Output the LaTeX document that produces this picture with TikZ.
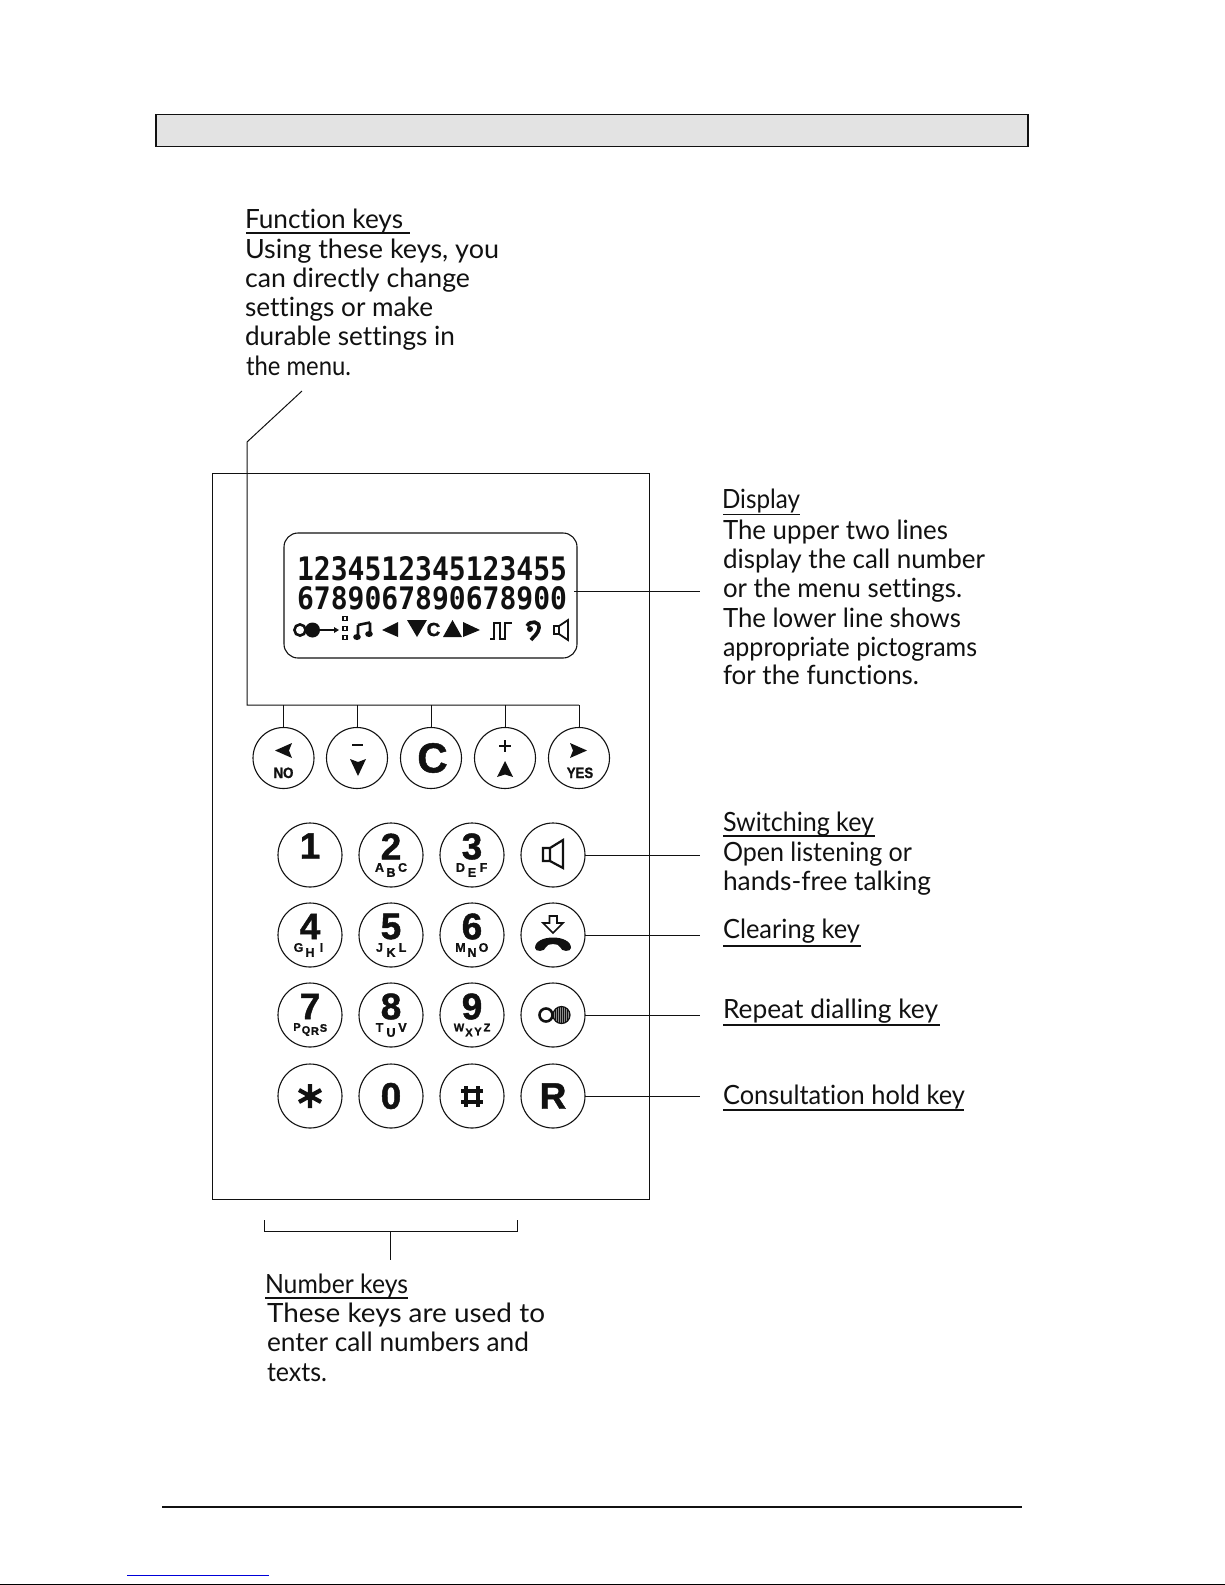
\documentclass[tikz,border=0pt]{standalone}
\usepackage{graphicx}
\usepackage{fontspec}
\setmainfont{Lato}[Ligatures=NoCommon]
\newfontfamily\keyf{Liberation Sans}[BoldFeatures={FakeBold=1.2}]
\newfontfamily\lcdf{DejaVu Sans Mono}
\definecolor{ink}{HTML}{111111}
\tikzset{
  thin line/.style={draw=ink,line width=1pt},
  lbl/.style={anchor=base west,inner sep=0pt,outer sep=0pt,text=ink},
  keycirc/.style={circle,draw=ink,line width=1.1pt,inner sep=0pt,outer sep=0pt,fill=white},
  bigkey/.style={keycirc,minimum size=64pt},
  fnkey/.style={keycirc,minimum size=61pt},
  glyph/.style={inner sep=0pt,outer sep=0pt,text=ink,font=\keyf\bfseries\fontsize{37}{37}\selectfont},
  small/.style={inner sep=0pt,outer sep=0pt,text=ink,font=\keyf\bfseries\fontsize{12.5}{13}\selectfont},
  uline/.style={draw=ink,line width=1.3pt},
}
% text line fitted to the width it has in the reference
\newcommand{\tline}[5]{\node[lbl] (#1) at (#2,#3) {\resizebox{#4pt}{\height}{\fontsize{26.5}{29}\selectfont #5}};}
% number key with digit and three staggered letters
\newcommand{\nkey}[7]{%
  \node[bigkey] (#1) at (#2,#3) {};
  \node[glyph] (#1d) at (#2,#3-8.5) {#4};
  \node[small] (#1a) at (#2-11.5,#3+12.5) {#5};
  \node[small] (#1b) at (#2,#3+17.5) {#6};
  \node[small] (#1c) at (#2+11.5,#3+12.5) {#7};}
\begin{document}
\begin{tikzpicture}[x=1pt,y=-1pt]
\useasboundingbox (0,0) rectangle (1225,1585);

% header bar
\node[draw=ink,line width=1.4pt,fill=black!11,inner sep=0pt,outer sep=0pt,minimum width=872pt,minimum height=32pt] (header) at (592,130.5) {};

% function keys text
\tline{fa}{245}{228}{158}{Function keys}
\coordinate (fau1) at (246,233); \coordinate (fau2) at (410,233);
\draw[uline] (fau1) -- (fau2);
\tline{fb}{245}{258}{254}{Using these keys, you}
\tline{fc}{245}{287}{225}{can directly change}
\tline{fd}{245}{316}{188}{settings or make}
\tline{fe}{245}{345}{210}{durable settings in}
\tline{ff}{246}{375}{105}{the menu.}

% casing
\node[draw=ink,line width=1pt,inner sep=0pt,outer sep=0pt,minimum width=436.5pt,minimum height=726pt] (panel) at (430.75,836) {};

% display
\node[draw=ink,line width=1.1pt,rounded corners=14pt,inner sep=0pt,outer sep=0pt,minimum width=293pt,minimum height=125pt] (lcd) at (430.5,595.5) {};
\node[inner sep=0pt,outer sep=0pt,text=ink,anchor=base west] (lcd1) at (297,580) {\resizebox{270pt}{24pt}{\lcdf\bfseries 1234512345123455}};
\node[inner sep=0pt,outer sep=0pt,text=ink,anchor=base west] (lcd2) at (297,609) {\resizebox{270pt}{23pt}{\lcdf\bfseries 6789067890678900}};

% display pictograms
\draw[ink,line width=2.6pt] (300,630) circle (5.6);
\fill[ink] (312.5,630) circle (7.5);
\draw[ink,line width=1.3pt] (320,630) -- (334,630);
\fill[ink] (339,630) -- (334,627) -- (334,633) -- cycle;
\draw[ink,line width=1.2pt] (343,616.5) rectangle (347,620.5) (343,626.5) rectangle (347,630.5) (343,635.5) rectangle (347,639.5);
\draw[ink,line width=2.6pt] (358,625) -- (370,622.5) (358,625) -- (358,636) (370,622.5) -- (370,633);
\fill[ink] (357,637) ellipse (3.8 and 3) (369,634) ellipse (3.8 and 3);
\fill[ink] (382,630) -- (398,622) -- (398,637) -- cycle;
\fill[ink] (407,620) -- (427,620) -- (417,637) -- cycle;
\node[inner sep=0pt,text=ink,font=\keyf\bfseries\fontsize{19}{19}\selectfont] (lcdc) at (433.5,629.5) {C};
\fill[ink] (443,637) -- (462,637) -- (452.5,620) -- cycle;
\fill[ink] (463,622) -- (480,630) -- (463,637) -- cycle;
\draw[ink,line width=2.4pt] (490,639) -- (494,639) -- (494,623) -- (500,623) -- (500,639) -- (505,639) -- (505,623) -- (512,623);
\draw[ink,line width=3.6pt] (527,626) .. controls (530,620) and (540,621) .. (539,628) .. controls (538,634) and (534,636) .. (531,640);
\fill[ink] (530,629) circle (3);
\draw[ink,line width=1.8pt] (554,626) rectangle (559,634) (559,626) -- (568,620) -- (568,640) -- (559,634);

% function keys
\node[fnkey] (kno) at (283.5,758) {};
\node[fnkey] (kdn) at (357,758) {};
\node[fnkey] (kc) at (431,758) {};
\node[fnkey] (kup) at (505,758) {};
\node[fnkey] (kyes) at (579,758) {};
\fill[ink] (275,750.5) -- (292,743) -- (289,750.5) -- (292,758) -- cycle;
\node[small,font=\keyf\bfseries\fontsize{15}{15}\selectfont,anchor=base] (noT) at (283.5,778) {\scalebox{.88}[1]{NO}};
\draw[ink,line width=1.4pt] (352,745) -- (363,745);
\fill[ink] (350,759) -- (358,762) -- (366,759) -- (358,776) -- cycle;
\node[glyph,font=\keyf\bfseries\fontsize{42}{42}\selectfont] (cT) at (432.5,758) {C};
\draw[ink,line width=2.2pt] (499,746) -- (511,746) (505,740) -- (505,752);
\fill[ink] (497,777) -- (505,761) -- (513,777) -- (505,774.5) -- cycle;
\fill[ink] (587,750.5) -- (570,743) -- (573,750.5) -- (570,758) -- cycle;
\node[small,font=\keyf\bfseries\fontsize{15}{15}\selectfont,anchor=base] (yesT) at (580,778) {\scalebox{.88}[1]{YES}};

% function key leader
\coordinate (ftop) at (302,391);
\coordinate (fknee) at (247,442);
\coordinate (fcorner) at (247,705);
\coordinate (fend) at (579,705);
\draw[thin line] (ftop) -- (fknee) -- (fcorner) -- (fend);
\foreach \k in {kno,kdn,kc,kup,kyes} \draw[thin line] (\k.north) -- (\k.north |- fend);

% number keys
\node[bigkey] (k1) at (310,855) {};
\node[glyph] (k1d) at (310,846) {1};
\nkey{k2}{391}{855}{2}{A}{B}{C}
\nkey{k3}{472}{855}{3}{D}{E}{F}
\node[bigkey] (kspk) at (553,855) {};
\nkey{k4}{310}{935}{4}{G}{H}{I}
\nkey{k5}{391}{935}{5}{J}{K}{L}
\nkey{k6}{472}{935}{6}{M}{N}{O}
\node[bigkey] (kclr) at (553,935) {};
\node[bigkey] (k7) at (310,1015) {};
\node[glyph] (k7d) at (310,1006.5) {7};
\node[small,font=\keyf\bfseries\fontsize{11}{11}\selectfont] (k7p) at (297,1027) {P};
\node[small,font=\keyf\bfseries\fontsize{11}{11}\selectfont] (k7q) at (306,1031) {Q};
\node[small,font=\keyf\bfseries\fontsize{11}{11}\selectfont] (k7r) at (315,1031) {R};
\node[small,font=\keyf\bfseries\fontsize{11}{11}\selectfont] (k7s) at (323.5,1028) {S};
\nkey{k8}{391}{1015}{8}{T}{U}{V}
\node[bigkey] (k9) at (472,1015) {};
\node[glyph] (k9d) at (472,1006.5) {9};
\node[small,font=\keyf\bfseries\fontsize{11}{11}\selectfont] (k9w) at (459,1027.5) {W};
\node[small,font=\keyf\bfseries\fontsize{11}{11}\selectfont] (k9x) at (469,1032.5) {X};
\node[small,font=\keyf\bfseries\fontsize{11}{11}\selectfont] (k9y) at (478,1031.5) {Y};
\node[small,font=\keyf\bfseries\fontsize{11}{11}\selectfont] (k9z) at (487,1027.5) {Z};
\node[bigkey] (krep) at (553,1015) {};
\node[bigkey] (kst) at (310,1096) {};
\draw[ink,line width=4.2pt] (310,1084) -- (310,1108) (299,1090) -- (321,1102) (299,1102) -- (321,1090);
\node[bigkey] (k0) at (391,1096) {};
\node[glyph] (k0d) at (391,1096) {0};
\node[bigkey] (khash) at (472,1096) {};
\draw[ink,line width=3.4pt] (466,1086) -- (466,1107) (478,1086) -- (478,1107) (461,1091) -- (483,1091) (461,1102) -- (483,1102);
\node[bigkey] (kr) at (553,1096) {};
\node[glyph] (krd) at (553,1096) {R};

% speaker key
\draw[ink,line width=2.2pt] (543,848) rectangle (550,861) (550,848) -- (563,840) -- (563,868) -- (550,861);
% clearing key
\draw[ink,line width=1.6pt] (549.5,916) -- (557,916) -- (557,923) -- (563,923) -- (553,933) -- (543,923) -- (549.5,923) -- cycle;
\fill[ink] (535,948) .. controls (535,934) and (571,934) .. (571,948) .. controls (571,952) and (561,952) .. (560,947) .. controls (559,943) and (547,943) .. (546,947) .. controls (545,952) and (535,952) .. cycle;
% repeat key
\draw[ink,line width=2.6pt] (546,1015) circle (6.5);
\fill[black!45] (561.5,1015) circle (8.5);
\begin{scope}
\clip (561.5,1015) circle (8.5);
\foreach \x in {553.5,555.5,...,570} \draw[ink,line width=1pt] (\x,1005) -- (\x,1025);
\end{scope}
\draw[ink,line width=1.2pt] (561.5,1015) circle (8.5);

% leaders to the right
\coordinate (lcdEnd) at (700,591);
\draw[thin line] ([xshift=-3pt]lcd.east |- lcdEnd) -- (lcdEnd);
\coordinate (spkEnd) at (700,855); \draw[thin line] (kspk.east) -- (spkEnd);
\coordinate (clrEnd) at (700,935); \draw[thin line] (kclr.east) -- (clrEnd);
\coordinate (repEnd) at (700,1015); \draw[thin line] (krep.east) -- (repEnd);
\coordinate (rEnd) at (700,1096); \draw[thin line] (kr.east) -- (rEnd);

% display text
\tline{da}{722}{508}{78}{Display}
\coordinate (dau1) at (723,514.5); \coordinate (dau2) at (800,514.5);
\draw[uline] (dau1) -- (dau2);
\tline{db}{723}{539}{225}{The upper two lines}
\tline{dc}{723}{568}{262}{display the call number}
\tline{dd}{723}{597}{239}{or the menu settings.}
\tline{de}{723}{627}{238}{The lower line shows}
\tline{df}{723}{656}{254}{appropriate pictograms}
\tline{dg}{723}{684}{196}{for the functions.}

% switching key text
\tline{sa}{723}{831}{151}{Switching key}
\coordinate (sau1) at (723,836); \coordinate (sau2) at (875,836);
\draw[uline] (sau1) -- (sau2);
\tline{sb}{723}{861}{189}{Open listening or}
\tline{sc}{723}{890}{208}{hands-free talking}

\tline{ca}{723}{938}{137}{Clearing key}
\coordinate (cau1) at (723,946); \coordinate (cau2) at (861,946);
\draw[uline] (cau1) -- (cau2);

\tline{ra}{723}{1018}{215}{Repeat dialling key}
\coordinate (rau1) at (723,1025); \coordinate (rau2) at (940,1025);
\draw[uline] (rau1) -- (rau2);

\tline{ha}{723}{1104}{242}{Consultation hold key}
\coordinate (hau1) at (723,1110); \coordinate (hau2) at (964,1110);
\draw[uline] (hau1) -- (hau2);

% number keys bracket and text
\coordinate (bra) at (264,1220); \coordinate (brb) at (264,1231);
\coordinate (brc) at (517.5,1231); \coordinate (brd) at (517.5,1220);
\draw[thin line] (bra) -- (brb) -- (brc) -- (brd);
\coordinate (stema) at (390,1231); \coordinate (stemb) at (390,1260);
\draw[thin line] (stema) -- (stemb);
\tline{na}{265}{1293}{143}{Number keys}
\coordinate (nau1) at (265,1298); \coordinate (nau2) at (408,1298);
\draw[uline] (nau1) -- (nau2);
\tline{nb}{267}{1322}{278}{These keys are used to}
\tline{nc}{267}{1351}{262}{enter call numbers and}
\tline{nd}{267}{1381}{60}{texts.}

% footer rules
\coordinate (foa) at (162,1507); \coordinate (fob) at (1022,1507);
\draw[ink,line width=1.3pt] (foa) -- (fob);
\coordinate (bla) at (127,1575.5); \coordinate (blb) at (269,1575.5);
\draw[blue!85!black,line width=1.2pt] (bla) -- (blb);
\coordinate (bot1) at (0,1584.2); \coordinate (bot2) at (1225,1584.2);
\draw[black,line width=1.4pt] (bot1) -- (bot2);
\end{tikzpicture}
\end{document}
